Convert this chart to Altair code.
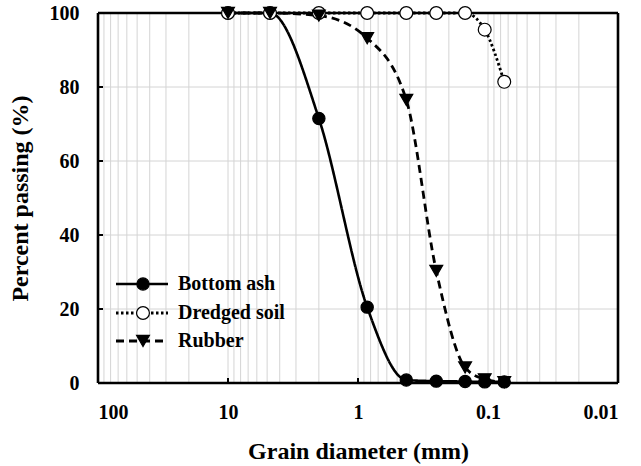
import altair as alt
import pandas as pd

# Sieve sizes (mm) and percent passing for each material
sieve_mm = [10, 4.75, 2.0, 0.85, 0.425, 0.25, 0.15, 0.106, 0.075]
bottom_ash = [100, 100, 71.5, 20.5, 0.8, 0.5, 0.4, 0.3, 0.3]
dredged_soil = [100, 100, 100, 100, 100, 100, 100, 95.5, 81.4]
rubber = [100, 100, 99.3, 93.2, 76.5, 30.3, 4.2, 1.0, 0.2]

series_names = ["Bottom ash", "Dredged soil", "Rubber"]
series_values = [bottom_ash, dredged_soil, rubber]

# Axis tick labels and grid positions
x_major = [100, 10, 1, 0.1, 0.01]
x_grid = [m * 10.0 ** e for e in (-2, -1, 0, 1) for m in range(1, 10)] + [100]
y_ticks = [0, 20, 40, 60, 80, 100]

FONT = "Liberation Serif"
W, H = 520, 370

x_scale = alt.Scale(type="log", domain=[0.01, 100], reverse=True)
y_scale = alt.Scale(domain=[0, 100])

grid_df = pd.DataFrame({"d": x_grid})
base_grid = alt.Chart(grid_df).mark_rule(color="#d4d4d4", strokeWidth=1).encode(
    x=alt.X(
        "d:Q",
        scale=x_scale,
        axis=alt.Axis(
            values=x_major,
            format="~g",
            title="Grain diameter (mm)",
            ticks=False,
            domain=False,
            grid=False,
            labelFont=FONT,
            labelFontWeight="bold",
            labelFontSize=20,
            labelColor="black",
            labelPadding=19,
            titleFont=FONT,
            titleFontWeight="bold",
            titleFontSize=24,
            titleColor="black",
            titlePadding=17,
        ),
    ),
    y=alt.value(0),
    y2=alt.value(H),
)

hgrid_df = pd.DataFrame({"p": y_ticks})
hgrid = alt.Chart(hgrid_df).mark_rule(color="#d4d4d4", strokeWidth=1).encode(
    y=alt.Y(
        "p:Q",
        scale=y_scale,
        axis=alt.Axis(
            values=y_ticks,
            title="Percent passing (%)",
            ticks=False,
            domain=False,
            grid=False,
            labelFont=FONT,
            labelFontWeight="bold",
            labelFontSize=20,
            labelColor="black",
            labelPadding=19,
            titleFont=FONT,
            titleFontWeight="bold",
            titleFontSize=24,
            titleColor="black",
            titlePadding=17,
        ),
    ),
    x=alt.value(0),
    x2=alt.value(W),
)

# Inward tick marks
xtick_df = pd.DataFrame({"d": x_major[1:-1]})
xticks = alt.Chart(xtick_df).mark_rule(color="black", strokeWidth=2).encode(
    x=alt.X("d:Q", scale=x_scale), y=alt.value(H), y2=alt.value(H - 5)
)
ytick_df = pd.DataFrame({"p": y_ticks[1:-1]})
yticks = alt.Chart(ytick_df).mark_rule(color="black", strokeWidth=2).encode(
    y=alt.Y("p:Q", scale=y_scale), x=alt.value(0), x2=alt.value(5)
)

styles = {
    "Bottom ash": dict(dash=[1, 0], width=2.6, shape="circle", fill="black", size=150),
    "Dredged soil": dict(dash=[2.5, 2.5], width=2.8, shape="circle", fill="white", size=165),
    "Rubber": dict(dash=[8, 5], width=2.8, shape="triangle-down", fill="black", size=165),
}

line_layers, point_layers = [], []
for name, vals in zip(series_names, series_values):
    st = styles[name]
    df = pd.DataFrame({"d": sieve_mm, "p": vals, "s": name})
    x_enc = alt.X("d:Q", scale=x_scale)
    y_enc = alt.Y("p:Q", scale=y_scale)
    line_layers.append(
        alt.Chart(df).mark_line(
            color="black", strokeWidth=st["width"], strokeDash=st["dash"], interpolate="monotone"
        ).encode(x=x_enc, y=y_enc, order=alt.Order("d:Q", sort="descending"))
    )
    point_layers.append(
        alt.Chart(df).mark_point(
            shape=st["shape"], filled=True, fill=st["fill"], stroke="black",
            strokeWidth=1.2, size=st["size"], opacity=1,
        ).encode(x=x_enc, y=y_enc)
    )

# Plot frame, drawn above the lines and beneath the markers
frame_df = pd.DataFrame({"k": [0]})
fw = 2.6
frame = [
    alt.Chart(frame_df).mark_rule(color="black", strokeWidth=fw).encode(
        x=alt.value(0), x2=alt.value(W), y=alt.value(0)),
    alt.Chart(frame_df).mark_rule(color="black", strokeWidth=fw).encode(
        x=alt.value(0), x2=alt.value(W), y=alt.value(H)),
    alt.Chart(frame_df).mark_rule(color="black", strokeWidth=fw).encode(
        x=alt.value(0), y=alt.value(0), y2=alt.value(H)),
    alt.Chart(frame_df).mark_rule(color="black", strokeWidth=fw).encode(
        x=alt.value(W), y=alt.value(0), y2=alt.value(H)),
]

# Legend drawn inside the plot, lower left
legend_layers = []
leg_rows = [271, 300, 328]
for name, ly in zip(series_names, leg_rows):
    st = styles[name]
    ldf = pd.DataFrame({"s": [name]})
    legend_layers.append(
        alt.Chart(ldf).mark_rule(color="black", strokeWidth=st["width"], strokeDash=st["dash"]).encode(
            x=alt.value(18), x2=alt.value(70), y=alt.value(ly)
        )
    )
    legend_layers.append(
        alt.Chart(ldf).mark_point(
            shape=st["shape"], filled=True, fill=st["fill"], stroke="black",
            strokeWidth=1.2, size=st["size"], opacity=1,
        ).encode(x=alt.value(45), y=alt.value(ly))
    )
    legend_layers.append(
        alt.Chart(ldf).mark_text(
            font=FONT, fontWeight="bold", fontSize=20, align="left", baseline="middle", color="black"
        ).encode(x=alt.value(80), y=alt.value(ly), text="s:N")
    )

layers = [base_grid, hgrid] + line_layers + frame + [xticks, yticks] + point_layers + legend_layers

chart = (
    alt.layer(*layers)
    .properties(
        width=W,
        height=H,
        autosize=alt.AutoSizeParams(type="none"),
        padding={"left": 98, "top": 13, "right": 23, "bottom": 83},
        background="white",
    )
    .configure_view(stroke=None)
)

chart.save("out.html", embed_options={"renderer": "svg", "actions": False})
